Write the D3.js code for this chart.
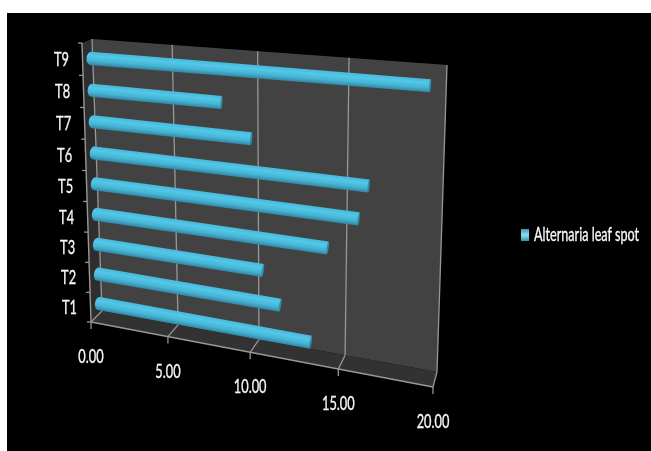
<!DOCTYPE html>
<html>
<head>
<meta charset="utf-8">
<script src="https://cdn.jsdelivr.net/npm/d3@7"></script>
<style>
  html, body { margin: 0; padding: 0; background: #fff; }
  text { font-family: Lato, sans-serif; fill: #f6f6f6; stroke: #f6f6f6; stroke-width: 0.3; }
</style>
</head>
<body>
<div id="chart"></div>
<script>
const categories = ["T1", "T2", "T3", "T4", "T5", "T6", "T7", "T8", "T9"];
const values = [13.25, 11.5, 10.5, 14.15, 15.8, 16.3, 9.85, 8.15, 19.3];
const xTicks = [0, 5, 10, 15, 20];
const seriesName = "Alternaria leaf spot";

const width = 651;
const height = 451;

// Corners of the 3D box as seen in the picture: bl, br, tr, tl
const frontQuad = [[91, 322], [433, 387], [443, 68], [82, 43]];
const backQuad = [[102, 311], [437, 372], [447, 65], [92, 39]];
// Plane the bars sit on, half way through the box depth
const midQuad = [[96.5, 317.5], [435, 381.5], [445, 68.5], [87, 42]];

// Homography from the unit square onto a quad
const homography = (q) => {
  const [[x0, y0], [x1, y1], [x2, y2], [x3, y3]] = q;
  const dx1 = x1 - x2, dx2 = x3 - x2, sx = x0 - x1 + x2 - x3;
  const dy1 = y1 - y2, dy2 = y3 - y2, sy = y0 - y1 + y2 - y3;
  const den = dx1 * dy2 - dx2 * dy1;
  const g = (sx * dy2 - dx2 * sy) / den;
  const h = (dx1 * sy - sx * dy1) / den;
  const a = x1 - x0 + g * x1, b = x3 - x0 + h * x3;
  const d = y1 - y0 + g * y1, e = y3 - y0 + h * y3;
  return (u, v) => {
    const w = g * u + h * v + 1;
    return [(a * u + b * v + x0) / w, (d * u + e * v + y0) / w];
  };
};

const front = homography(frontQuad);
const back = homography(backQuad);
const mid = homography(midQuad);

const xScale = d3.scaleLinear().domain([0, 20]).range([0, 1]);
const yScale = d3.scaleBand().domain(categories).range([0, 1]);

const svg = d3.select("#chart")
  .append("svg")
    .attr("width", width)
    .attr("height", height)
    .style("display", "block");

const defs = svg.append("defs");
const soft = defs.append("filter")
    .attr("id", "soft")
    .attr("x", "-5%").attr("y", "-5%")
    .attr("width", "110%").attr("height", "110%");
soft.append("feGaussianBlur").attr("stdDeviation", 0.5);

// Black picture area
svg.append("rect")
    .attr("x", 7)
    .attr("y", 13)
    .attr("width", width - 7)
    .attr("height", height - 13)
    .attr("fill", "#000");

const chart = svg.append("g").attr("filter", "url(#soft)");
const pathOf = (pts) => "M" + pts.map(p => p.map(n => n.toFixed(2)).join(",")).join("L") + "Z";

/*******************************/
/*    Walls and floor          */
/*******************************/
chart.append("path")
    .attr("d", pathOf(backQuad))
    .attr("fill", "#434343");
chart.append("path")
    .attr("d", pathOf([frontQuad[3], backQuad[3], backQuad[0], frontQuad[0]]))
    .attr("fill", "#2f2f2f");
chart.append("path")
    .attr("d", pathOf([frontQuad[0], backQuad[0], backQuad[1], frontQuad[1]]))
    .attr("fill", "#333");

/*******************************/
/*    Gridlines and axes       */
/*******************************/
const axisColor = "#979797";
const segment = (g, a, b, w = 1.3) => g.append("line")
    .attr("x1", a[0]).attr("y1", a[1])
    .attr("x2", b[0]).attr("y2", b[1])
    .attr("stroke", axisColor)
    .attr("stroke-width", w);

const grid = chart.append("g");
xTicks.forEach(t => {
  const u = xScale(t);
  segment(grid, back(u, 0), back(u, 1));
  segment(grid, front(u, 0), back(u, 0));
  const p = front(u, 0);
  segment(grid, p, [p[0], p[1] + 7]);
});
segment(grid, front(0, 0), front(1, 0), 1.4);
segment(grid, front(0, 0), front(0, 1), 1.4);

const bandEdges = categories.map(c => yScale(c)).concat([1]);
bandEdges.forEach(v => {
  const p = front(0, v);
  segment(grid, p, [p[0] - 4, p[1]]);
});

/*******************************/
/*    Cylinder bars            */
/*******************************/
const barHalf = 6.6;
const capInset = 3;
const bars = chart.append("g");
categories.forEach((c, i) => {
  const v = yScale(c) + yScale.bandwidth() / 2;
  const start = mid(0, v);
  const end = mid(xScale(values[i]), v);
  const dx = end[0] - start[0], dy = end[1] - start[1];
  const len = Math.hypot(dx, dy);
  const angle = Math.atan2(dy, dx) * 180 / Math.PI;

  const grad = defs.append("linearGradient")
      .attr("id", `bar-${i}`)
      .attr("x1", 0).attr("y1", 0)
      .attr("x2", 0).attr("y2", 1);
  grad.append("stop").attr("offset", "0%").attr("stop-color", "#47b8d9");
  grad.append("stop").attr("offset", "30%").attr("stop-color", "#52c8e8");
  grad.append("stop").attr("offset", "68%").attr("stop-color", "#47b3d3");
  grad.append("stop").attr("offset", "100%").attr("stop-color", "#2f88a5");

  const g = bars.append("g")
      .attr("transform", `translate(${start[0]},${start[1]}) rotate(${angle})`);
  g.append("path")
      .attr("d", `M${capInset},${-barHalf}L${len},${-barHalf}L${len},${barHalf}L${capInset},${barHalf}A4,${barHalf} 0 0 1 ${capInset},${-barHalf}Z`)
      .attr("fill", `url(#bar-${i})`);
  g.append("ellipse")
      .attr("cx", len)
      .attr("rx", 1)
      .attr("ry", barHalf)
      .attr("fill", "#338ca9");
});

/*******************************/
/*    Labels                   */
/*******************************/
const labels = chart.append("g");
const stretched = (x, y, txt, size, anchor = "middle") => labels.append("text")
    .text(txt)
    .attr("text-anchor", anchor)
    .attr("font-size", size)
    .attr("transform", `translate(${x},${y}) scale(0.8,1.22)`);

xTicks.forEach(t => {
  const p = front(xScale(t), 0);
  stretched(p[0], p[1] + 41, d3.format(".2f")(t), 16);
});
categories.forEach(c => {
  const v = yScale(c) + yScale.bandwidth() / 2;
  const p = front(0, v);
  stretched(p[0] - 21, p[1] + 7, c, 16);
});

// Legend
const legendGrad = defs.append("linearGradient")
    .attr("id", "legend-swatch")
    .attr("x1", 0).attr("y1", 0)
    .attr("x2", 0).attr("y2", 1);
legendGrad.append("stop").attr("offset", "0%").attr("stop-color", "#3f97b5");
legendGrad.append("stop").attr("offset", "50%").attr("stop-color", "#8fdcf0");
legendGrad.append("stop").attr("offset", "100%").attr("stop-color", "#2f8fae");
chart.append("rect")
    .attr("x", 521)
    .attr("y", 229)
    .attr("width", 8)
    .attr("height", 12)
    .attr("fill", "url(#legend-swatch)");
stretched(534, 241, seriesName, 15.8, "start");
</script>
</body>
</html>
